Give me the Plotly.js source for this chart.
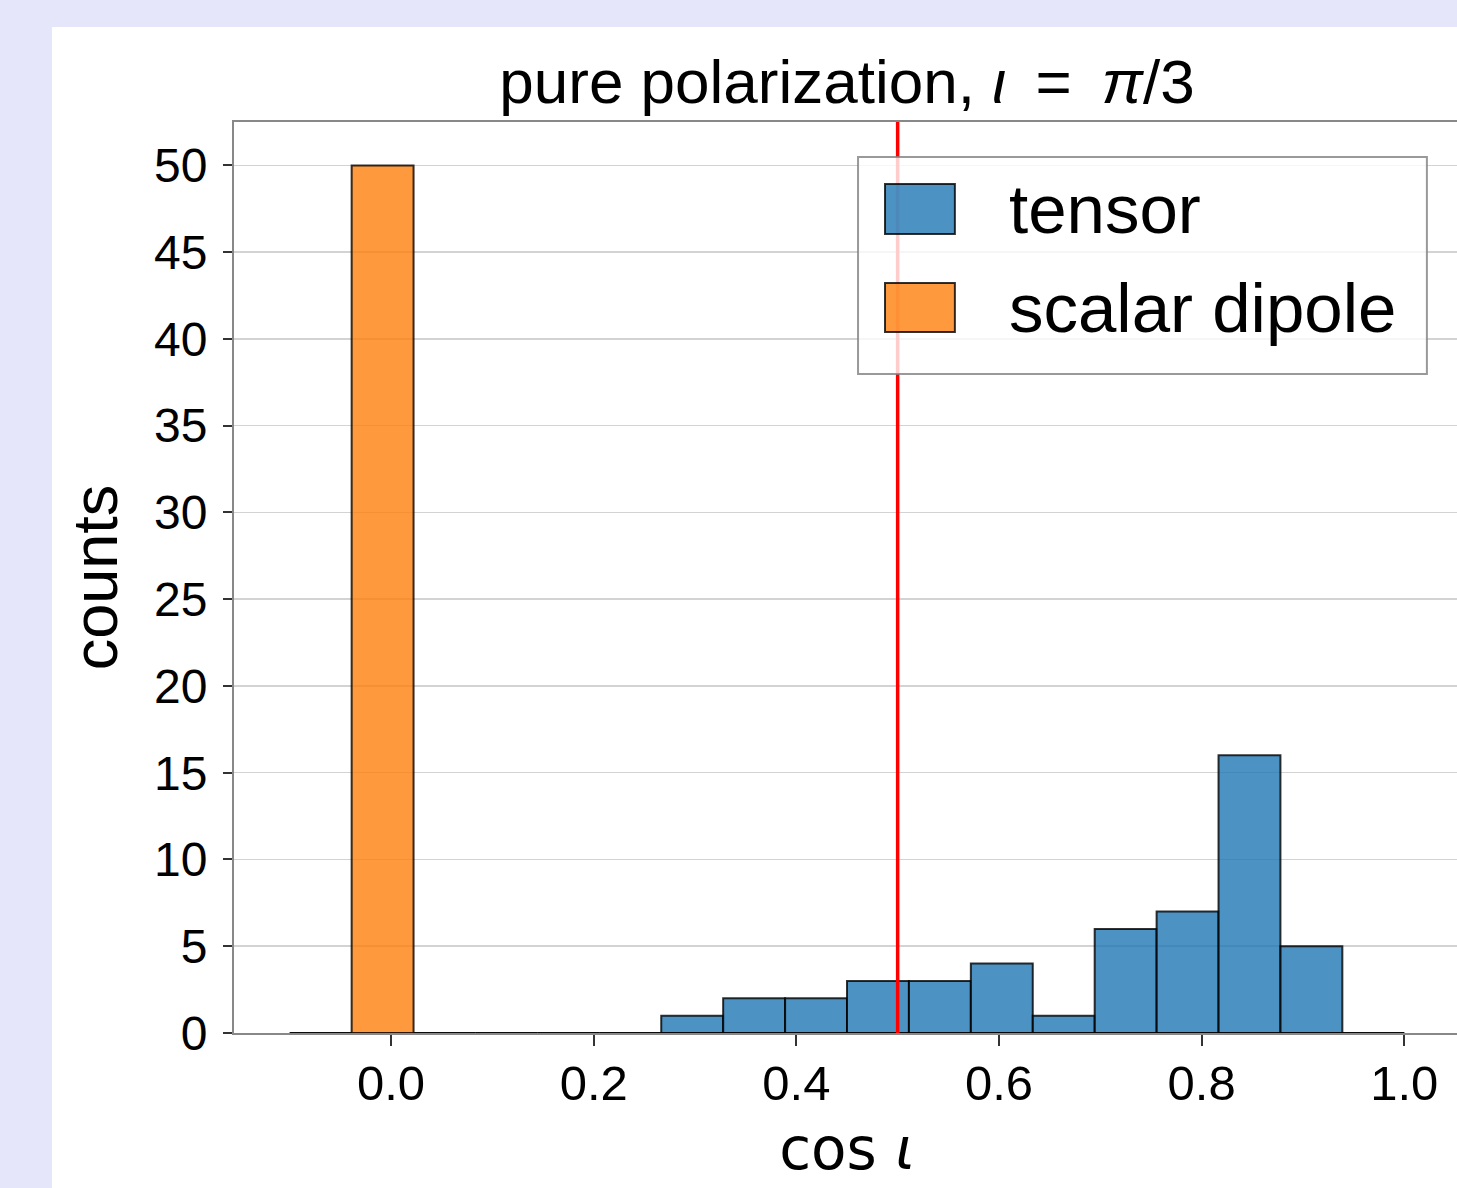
<!DOCTYPE html>
<html>
<head>
<meta charset="utf-8">
<script src="https://cdn.plot.ly/plotly-3.0.1.min.js"></script>
<style>
  html, body { margin: 0; padding: 0; background: #e6e6fa; overflow: hidden; width: 1457px; height: 1188px; }
  #chart { position: absolute; left: 52px; top: 27px; width: 1450px; height: 1161px; background: #ffffff; }
</style>
</head>
<body>
<div id="chart"></div>
<script>
// ---- data ----
const binLo = -0.1;
const binHi = 1.0;
const nBins = 18;
const tensorCounts = [0, 0, 0, 0, 0, 0, 1, 2, 2, 3, 3, 4, 1, 6, 7, 16, 5, 0];
const scalarCounts = [0, 50, 0, 0, 0, 0, 0, 0, 0, 0, 0, 0, 0, 0, 0, 0, 0, 0];
const seriesNames = ['tensor', 'scalar dipole'];
const trueCosIota = 0.5;            // cos(pi/3)
const xTickVals = [0.0, 0.2, 0.4, 0.6, 0.8, 1.0];
const xTickText = ['0.0', '0.2', '0.4', '0.6', '0.8', '1.0'];
const yTickVals = [0, 5, 10, 15, 20, 25, 30, 35, 40, 45, 50];

// ---- bins ----
const binWidth = (binHi - binLo) / nBins;
const binCenters = tensorCounts.map((_, i) => binLo + (i + 0.5) * binWidth);

const blue = 'rgba(31,119,180,0.8)';
const orange = 'rgba(255,127,14,0.8)';
const edge = 'rgba(0,0,0,0.8)';

const traces = [
  {
    type: 'bar', name: seriesNames[0], x: binCenters, y: tensorCounts,
    width: binWidth, marker: { color: blue, line: { color: edge, width: 2 } },
    showlegend: false, hoverinfo: 'x+y'
  },
  {
    type: 'bar', name: seriesNames[1], x: binCenters, y: scalarCounts,
    width: binWidth, marker: { color: orange, line: { color: edge, width: 2 } },
    showlegend: false, hoverinfo: 'x+y'
  }
];

const F = 'Liberation Sans, Arial, Helvetica, sans-serif';

// custom legend (matplotlib style) in paper coordinates
const lg = { x0: 0.509, x1: 0.973, y0: 0.7234, y1: 0.9616 };
const sw = { x0: 0.531, x1: 0.588 };
const rows = [
  { y0: 0.877, y1: 0.932, ty: 0.9045, color: blue, label: seriesNames[0] },
  { y0: 0.7695, y1: 0.8233, ty: 0.7958, color: orange, label: seriesNames[1] }
];

const shapes = [
  { type: 'line', xref: 'x', yref: 'paper', x0: trueCosIota, x1: trueCosIota, y0: 0, y1: 1,
    line: { color: '#ff0000', width: 3.5 }, layer: 'above' },
  { type: 'rect', xref: 'paper', yref: 'paper', x0: lg.x0, x1: lg.x1, y0: lg.y0, y1: lg.y1,
    fillcolor: 'rgba(255,255,255,0.8)', line: { color: 'rgba(128,128,128,0.8)', width: 2 }, layer: 'above' }
];
rows.forEach(r => shapes.push({
  type: 'rect', xref: 'paper', yref: 'paper', x0: sw.x0, x1: sw.x1, y0: r.y0, y1: r.y1,
  fillcolor: r.color, line: { color: edge, width: 2 }, layer: 'above'
}));
const annotations = rows.map(r => ({
  xref: 'paper', yref: 'paper', x: 0.6305, y: r.ty, xanchor: 'left', yanchor: 'middle',
  text: r.label, showarrow: false, font: { family: F, size: 69, color: '#000' }
}));

const layout = {
  width: 1450, height: 1161,
  paper_bgcolor: '#ffffff', plot_bgcolor: '#ffffff',
  margin: { l: 182, r: 42, t: 95, b: 155 },
  barmode: 'overlay',
  bargap: 0,
  showlegend: false,
  title: {
    text: 'pure polarization, <i>ι</i> \u2009=\u2009 <i>π</i>/3',
    font: { family: F, size: 62, color: '#000' },
    x: 0.5, xref: 'paper', xanchor: 'center',
    y: 1, yref: 'paper', yanchor: 'bottom', pad: { b: 19 }
  },
  xaxis: {
    range: [-0.155, 1.055],
    tickvals: xTickVals, ticktext: xTickText,
    ticks: 'outside', ticklen: 11, tickwidth: 2, tickcolor: '#333',
    ticklabelstandoff: -5,
    tickfont: { family: F, size: 49, color: '#000' },
    showgrid: false, zeroline: false,
    showline: true, linecolor: '#888', linewidth: 2, mirror: true,
    title: { text: 'cos <i>ι</i>', font: { family: 'DejaVu Sans, sans-serif', size: 58, color: '#000' }, standoff: 20 }
  },
  yaxis: {
    range: [0, 52.5],
    tickvals: yTickVals,
    ticks: 'outside', ticklen: 9, tickwidth: 2, tickcolor: '#333',
    ticklabelstandoff: 6,
    tickfont: { family: F, size: 48, color: '#000' },
    showgrid: true, gridcolor: '#d3d3d3', gridwidth: 1.5,
    zeroline: false,
    showline: true, linecolor: '#888', linewidth: 2, mirror: true,
    title: { text: 'counts', font: { family: F, size: 63, color: '#000' }, standoff: 16 }
  },
  shapes: shapes,
  annotations: annotations
};

Plotly.newPlot('chart', traces, layout, { displayModeBar: false, staticPlot: true });
</script>
</body>
</html>
